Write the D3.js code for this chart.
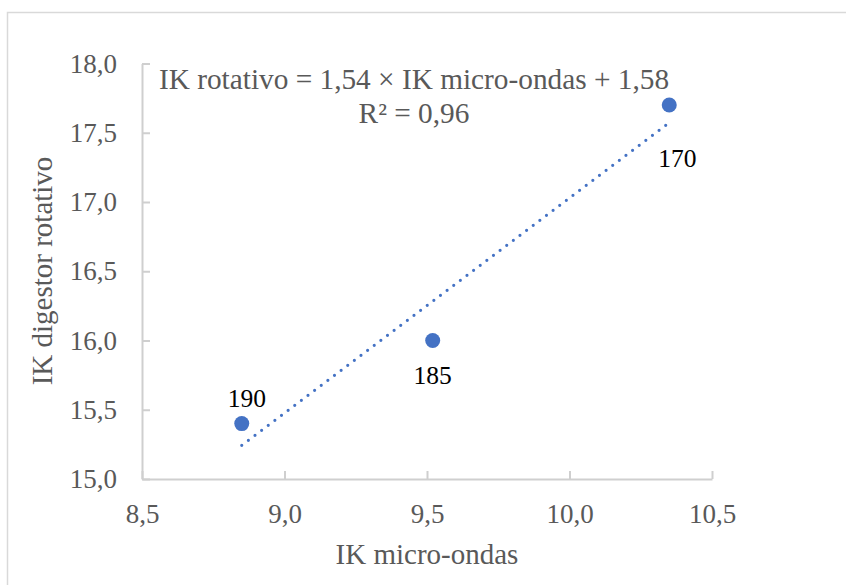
<!DOCTYPE html>
<html>
<head>
<meta charset="utf-8">
<script src="https://cdn.jsdelivr.net/npm/d3@7"></script>
<style>
  body { margin: 0; background: #fff; }
  text { font-family: "Liberation Serif", "Times New Roman", serif; }
</style>
</head>
<body>
<div id="chart"></div>
<script>
// data
var xValues = [8.85, 9.52, 10.35]
var yValues = [15.4, 16.0, 17.7]
var pointLabels = ["190", "185", "170"]
var xTicks = [8.5, 9.0, 9.5, 10.0, 10.5]
var yTicks = [15.0, 15.5, 16.0, 16.5, 17.0, 17.5, 18.0]
var equationLines = ["IK rotativo = 1,54 × IK micro-ondas + 1,58", "R² = 0,96"]

var width = 846, height = 585
var svg = d3.select('#chart').append('svg')
  .attr('width', width)
  .attr('height', height)

// outer chart border (only top and left visible in the crop)
svg.append('rect')
  .attr('x', 7.5).attr('y', 12.5)
  .attr('width', 1000).attr('height', 1000)
  .attr('fill', 'none')
  .attr('stroke', '#d9d9d9')
  .attr('stroke-width', 1.5)

var x = d3.scaleLinear().domain([8.5, 10.5]).range([142, 712])
var y = d3.scaleLinear().domain([15, 18]).range([479, 63.5])
var fmt = function(d){ return d3.format('.1f')(d).replace('.', ',') }

var gx = svg.append('g')
  .attr('transform', 'translate(0,' + y(15) + ')')
  .call(d3.axisBottom(x).tickValues(xTicks).tickFormat(fmt)
    .tickSizeInner(-8).tickSizeOuter(0).tickPadding(25))
var gy = svg.append('g')
  .attr('transform', 'translate(' + x(8.5) + ',0)')
  .call(d3.axisLeft(y).tickValues(yTicks).tickFormat(fmt)
    .tickSizeInner(-8).tickSizeOuter(0).tickPadding(25))

svg.selectAll('.domain, .tick line')
  .attr('stroke', '#cfcfcf')
  .attr('stroke-width', 2)
svg.selectAll('.tick text')
  .attr('fill', '#595959')
  .attr('font-size', 27)
  .style('font-family', '"Liberation Serif", serif')

// axis titles
svg.append('text')
  .attr('x', 427).attr('y', 564)
  .attr('text-anchor', 'middle')
  .attr('font-size', 29)
  .attr('fill', '#595959')
  .text('IK micro-ondas')
svg.append('text')
  .attr('transform', 'translate(52,271) rotate(-90)')
  .attr('text-anchor', 'middle')
  .attr('font-size', 29)
  .attr('fill', '#595959')
  .text('IK digestor rotativo')

// linear trendline (least squares on the points)
var mx = d3.mean(xValues), my = d3.mean(yValues)
var sxy = d3.sum(xValues, function(v, i){ return (v - mx) * (yValues[i] - my) })
var sxx = d3.sum(xValues, function(v){ return (v - mx) * (v - mx) })
var slope = sxy / sxx, intercept = my - slope * mx
var xEnds = d3.extent(xValues)
svg.append('line')
  .attr('x1', x(xEnds[0])).attr('y1', y(slope * xEnds[0] + intercept))
  .attr('x2', x(xEnds[1])).attr('y2', y(slope * xEnds[1] + intercept))
  .attr('stroke', '#4472c4')
  .attr('stroke-width', 3.2)
  .attr('stroke-linecap', 'round')
  .attr('stroke-dasharray', '0 8.3')

// points
var pts = xValues.map(function(v, i){ return {x: v, y: yValues[i], label: pointLabels[i]} })
svg.selectAll('circle.pt')
  .data(pts)
  .enter()
  .append('circle')
  .attr('class', 'pt')
  .attr('cx', function(d){ return x(d.x) })
  .attr('cy', function(d){ return y(d.y) })
  .attr('r', 7.5)
  .attr('fill', '#4472c4')

// data labels: first above, others below
var labelOffsets = [[5, -17], [0, 43], [8, 62]]
svg.selectAll('text.lbl')
  .data(pts)
  .enter()
  .append('text')
  .attr('class', 'lbl')
  .attr('x', function(d, i){ return x(d.x) + labelOffsets[i][0] })
  .attr('y', function(d, i){ return y(d.y) + labelOffsets[i][1] })
  .attr('text-anchor', 'middle')
  .attr('font-size', 25.5)
  .attr('fill', '#000')
  .text(function(d){ return d.label })

// trendline equation
svg.selectAll('text.eq')
  .data(equationLines)
  .enter()
  .append('text')
  .attr('class', 'eq')
  .attr('x', 414)
  .attr('y', function(d, i){ return 89 + i * 34 })
  .attr('text-anchor', 'middle')
  .attr('font-size', 29.3)
  .attr('fill', '#595959')
  .text(function(d){ return d })
</script>
</body>
</html>
